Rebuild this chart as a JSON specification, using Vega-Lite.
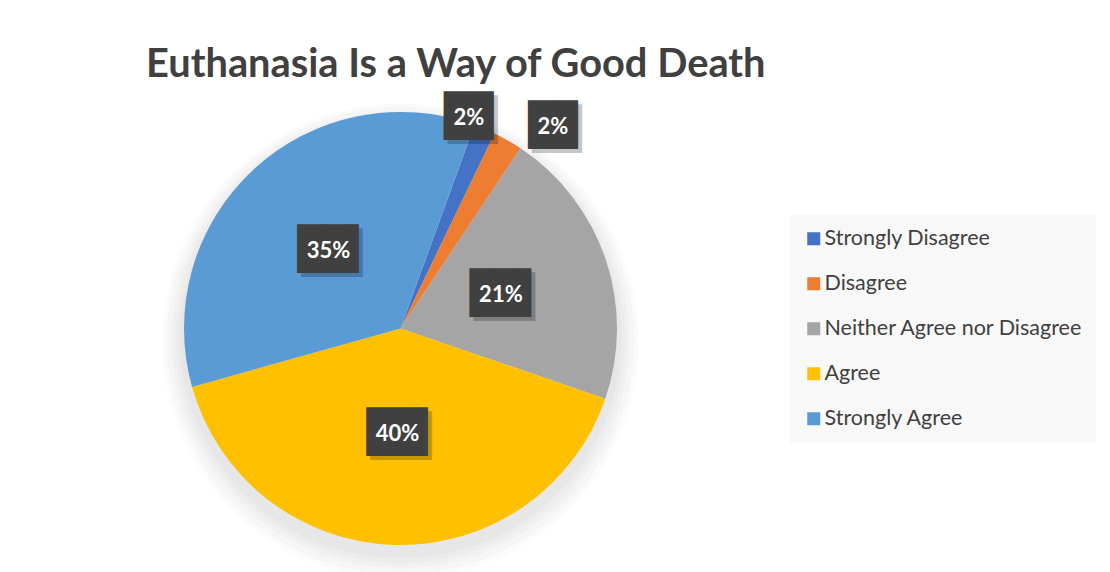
{
  "$schema": "https://vega.github.io/schema/vega-lite/v6.json",
  "width": 801,
  "height": 487,
  "autosize": {"type": "none"},
  "padding": {"left": 0, "top": 85, "right": 309, "bottom": 0},
  "background": "white",
  "config": {"view": {"stroke": null}},
  "title": {
    "text": "Euthanasia Is a Way of Good Death",
    "anchor": "start",
    "frame": "group",
    "dx": 146,
    "dy": 47,
    "offset": 15,
    "baseline": "alphabetic",
    "font": "Lato",
    "fontSize": 39.8,
    "fontWeight": "bold",
    "color": "#404040"
  },
  "data": {
    "values": [
      {"category": "Strongly Disagree", "pct": 0.016, "rank": 1},
      {"category": "Disagree", "pct": 0.022, "rank": 2},
      {"category": "Neither Agree nor Disagree", "pct": 0.209, "rank": 3},
      {"category": "Agree", "pct": 0.404, "rank": 4},
      {"category": "Strongly Agree", "pct": 0.349, "rank": 5}
    ]
  },
  "encoding": {
    "theta": {"field": "pct", "type": "quantitative", "stack": true, "scale": {"range": [0.349, 6.632]}},
    "order": {"field": "rank", "type": "quantitative"}
  },
  "layer": [
    {"mark": {"type": "arc", "radius": 238, "yOffset": 13, "color": "#000000", "opacity": 0.016}, "encoding": {"detail": {"field": "category", "type": "nominal"}}},
    {"mark": {"type": "arc", "radius": 234, "yOffset": 12, "color": "#000000", "opacity": 0.018}, "encoding": {"detail": {"field": "category", "type": "nominal"}}},
    {"mark": {"type": "arc", "radius": 229, "yOffset": 11, "color": "#000000", "opacity": 0.018}, "encoding": {"detail": {"field": "category", "type": "nominal"}}},
    {"mark": {"type": "arc", "radius": 225, "yOffset": 10, "color": "#000000", "opacity": 0.018}, "encoding": {"detail": {"field": "category", "type": "nominal"}}},
    {"mark": {"type": "arc", "radius": 221, "yOffset": 9, "color": "#000000", "opacity": 0.018}, "encoding": {"detail": {"field": "category", "type": "nominal"}}},
    {
      "mark": {"type": "arc", "radius": 216.5},
      "encoding": {
        "color": {
          "field": "category",
          "type": "nominal",
          "scale": {
            "domain": ["Strongly Disagree", "Disagree", "Neither Agree nor Disagree", "Agree", "Strongly Agree"],
            "range": ["#4472C4", "#ED7D31", "#A5A5A5", "#FFC000", "#5B9BD5"]
          },
          "legend": {
            "orient": "none",
            "legendX": 790,
            "legendY": 130,
            "title": null,
            "fillColor": "#f8f8f8",
            "padding": 13,
            "symbolType": "square",
            "symbolSize": 169,
            "symbolStrokeWidth": 0,
            "symbolOpacity": 1,
            "labelFont": "Lato",
            "labelFontSize": 21.5,
            "labelColor": "#404040",
            "labelOffset": 0,
            "rowPadding": 22,
            "labelLimit": 400
          }
        }
      }
    },
    {
      "mark": {"type": "text", "radius": 106, "font": "DejaVu Sans Mono", "fontSize": 41, "color": "#000000", "opacity": 0.22, "align": "center", "baseline": "middle", "dx": 10, "dy": 4},
      "encoding": {"detail": {"field": "category", "type": "nominal"}, "text": {"condition": {"test": "datum.pct < 0.1", "value": ""}, "value": "██▌"}}
    },
    {
      "mark": {"type": "text", "radius": 106, "font": "DejaVu Sans Mono", "fontSize": 41, "color": "#404040", "align": "center", "baseline": "middle", "dx": 6},
      "encoding": {"detail": {"field": "category", "type": "nominal"}, "text": {"condition": {"test": "datum.pct < 0.1", "value": ""}, "value": "██▌"}}
    },
    {
      "mark": {"type": "text", "radius": 106, "font": "Lato", "fontSize": 22, "fontWeight": "bold", "color": "#ffffff", "align": "center", "baseline": "middle"},
      "encoding": {"detail": {"field": "category", "type": "nominal"}, "text": {"condition": {"test": "datum.pct < 0.1", "value": ""}, "field": "pct", "type": "quantitative", "format": ".0%"}}
    },
    {
      "mark": {"type": "text", "radius": 222, "font": "DejaVu Sans Mono", "fontSize": 41, "color": "#000000", "opacity": 0.22, "align": "center", "baseline": "middle", "dx": -14, "dy": -2},
      "encoding": {"detail": {"field": "category", "type": "nominal"}, "text": {"condition": {"test": "datum.category !== 'Strongly Disagree'", "value": ""}, "value": "██"}}
    },
    {
      "mark": {"type": "text", "radius": 222, "font": "DejaVu Sans Mono", "fontSize": 41, "color": "#404040", "align": "center", "baseline": "middle", "dx": -18, "dy": -6},
      "encoding": {"detail": {"field": "category", "type": "nominal"}, "text": {"condition": {"test": "datum.category !== 'Strongly Disagree'", "value": ""}, "value": "██"}}
    },
    {
      "mark": {"type": "text", "radius": 222, "font": "Lato", "fontSize": 22, "fontWeight": "bold", "color": "#ffffff", "align": "center", "baseline": "middle", "dx": -18, "dy": -6},
      "encoding": {"detail": {"field": "category", "type": "nominal"}, "text": {"condition": {"test": "datum.category !== 'Strongly Disagree'", "value": ""}, "field": "pct", "type": "quantitative", "format": ".0%"}}
    },
    {
      "mark": {"type": "text", "radius": 253, "font": "DejaVu Sans Mono", "fontSize": 41, "color": "#000000", "opacity": 0.22, "align": "center", "baseline": "middle", "dx": 31, "dy": 22},
      "encoding": {"detail": {"field": "category", "type": "nominal"}, "text": {"condition": {"test": "datum.category !== 'Disagree'", "value": ""}, "value": "██"}}
    },
    {
      "mark": {"type": "text", "radius": 253, "font": "DejaVu Sans Mono", "fontSize": 41, "color": "#404040", "align": "center", "baseline": "middle", "dx": 27, "dy": 18},
      "encoding": {"detail": {"field": "category", "type": "nominal"}, "text": {"condition": {"test": "datum.category !== 'Disagree'", "value": ""}, "value": "██"}}
    },
    {
      "mark": {"type": "text", "radius": 253, "font": "Lato", "fontSize": 22, "fontWeight": "bold", "color": "#ffffff", "align": "center", "baseline": "middle", "dx": 27, "dy": 18},
      "encoding": {"detail": {"field": "category", "type": "nominal"}, "text": {"condition": {"test": "datum.category !== 'Disagree'", "value": ""}, "field": "pct", "type": "quantitative", "format": ".0%"}}
    }
  ]
}
